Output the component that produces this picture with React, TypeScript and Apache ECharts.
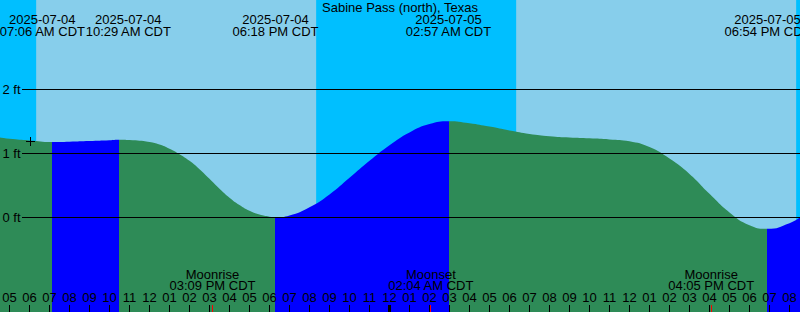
import React, { useEffect, useRef } from "react";
import * as echarts from "echarts";

const stationName = "Sabine Pass (north), Texas";

// Time: hours since 2025-07-04 00:00 CDT ; level: feet
const tideHours = [
  4.5, 5, 6, 7.1, 8, 9, 10, 10.4833, 11, 12, 12.5, 13, 13.5, 14, 14.5, 15, 15.5,
  16, 16.5, 17, 17.5, 18, 18.3, 19, 20, 21, 22, 23, 24, 25, 26, 26.95, 28, 29,
  30, 31, 32, 33, 34, 35, 36, 37, 38, 39, 40, 41, 42, 42.9, 44, 44.6,
];
const tideFeet = [
  1.25, 1.23, 1.205, 1.18, 1.185, 1.195, 1.207, 1.215, 1.21, 1.18, 1.14, 1.075,
  0.99, 0.885, 0.755, 0.605, 0.45, 0.31, 0.195, 0.105, 0.045, 0.012, 0.0, 0.03,
  0.16, 0.36, 0.62, 0.885, 1.13, 1.33, 1.46, 1.505, 1.473, 1.42, 1.36, 1.306,
  1.27, 1.25, 1.237, 1.22, 1.19, 1.1, 0.92, 0.68, 0.37, 0.08, -0.12, -0.177,
  -0.088, 0.016,
];

const extremeHours = [7.1, 10.4833, 18.3, 26.95, 42.9];
const extremeKinds = ["low", "high", "low", "high", "low"];
const extremeDates = ["2025-07-04", "2025-07-04", "2025-07-04", "2025-07-05", "2025-07-05"];
const extremeTimes = ["07:06 AM CDT", "10:29 AM CDT", "06:18 PM CDT", "02:57 AM CDT", "06:54 PM CDT"];

const sunriseHours = [6.333, 30.333];
const sunsetHours = [20.333, 44.333];

const moonHours = [15.15, 26.0667, 40.0833];
const moonEvents = ["Moonrise", "Moonset", "Moonrise"];
const moonTimes = ["03:09 PM CDT", "02:04 AM CDT", "04:05 PM CDT"];

const hourTicks = [
  5, 6, 7, 8, 9, 10, 11, 12, 13, 14, 15, 16, 17, 18, 19, 20, 21, 22, 23, 24, 25,
  26, 27, 28, 29, 30, 31, 32, 33, 34, 35, 36, 37, 38, 39, 40, 41, 42, 43, 44,
];

const levelTicks = [0, 1, 2];
const levelLabels = ["0 ft", "1 ft", "2 ft"];

const markerHour = 6.05;
const markerFeet = 1.1875;

// axis extents
const axisStartHour = 4.525;
const axisEndHour = 44.525;
const axisMinFeet = -1.4765625;
const axisMaxFeet = 3.3984375;

const DAY = "#87CEEB";
const NIGHT = "#00BFFF";
const FLOOD = "#0000FF";
const EBB = "#2E8B57";
const FONT = "'Liberation Sans', Arial, Helvetica, sans-serif";
const FS = 13;

function hourLabel(h: number): string {
  const hh = h % 12 === 0 ? 12 : h % 12;
  return (hh < 10 ? "0" : "") + hh;
}

function spread(xs: number[], w: number): number[] {
  const out = xs.slice();
  for (let it = 0; it < 6; it++) {
    for (let i = 0; i < out.length - 1; i++) {
      const gap = out[i + 1] - out[i];
      if (gap < w) {
        const d = (w - gap) / 2;
        out[i] -= d;
        out[i + 1] += d;
      }
    }
  }
  return out;
}

export default function App() {
  const ref = useRef<HTMLDivElement>(null);
  useEffect(() => {
    if (!ref.current) return;
    const chart = echarts.init(ref.current, undefined, { renderer: "svg" });

    const nights = [
      [axisStartHour - 1, sunriseHours[0]],
      [sunsetHours[0], sunriseHours[1]],
      [sunsetHours[1], axisEndHour + 1],
    ];

    const pieces: any[] = [];
    pieces.push({ lt: extremeHours[0], color: extremeKinds[0] === "low" ? EBB : FLOOD });
    for (let i = 0; i < extremeHours.length; i++) {
      const color = extremeKinds[i] === "low" ? FLOOD : EBB;
      if (i < extremeHours.length - 1) pieces.push({ gte: extremeHours[i], lt: extremeHours[i + 1], color });
      else pieces.push({ gte: extremeHours[i], color });
    }

    const textStyle = (text: string, x: number, y: number, align = "center") => ({
      type: "text",
      style: {
        text,
        x,
        y,
        fill: "#000",
        fontSize: FS,
        fontFamily: FONT,
        align,
        verticalAlign: "middle",
      },
    });

    const option: any = {
      animation: false,
      title: {
        text: stationName,
        left: "center",
        top: 1,
        padding: 0,
        textStyle: { fontSize: FS, fontWeight: "normal", color: "#000", fontFamily: FONT, lineHeight: 13 },
      },
      grid: {
        left: 0, right: 0, top: 0, bottom: 0,
        show: true, backgroundColor: DAY, borderWidth: 0,
      },
      xAxis: { type: "value", min: axisStartHour, max: axisEndHour, show: false },
      yAxis: { type: "value", min: axisMinFeet, max: axisMaxFeet, show: false },
      visualMap: { type: "piecewise", show: false, dimension: 0, seriesIndex: 1, pieces },
      series: [
        {
          type: "custom",
          z: 1,
          silent: true,
          data: nights,
          renderItem: (params: any, api: any) => {
            const s = api.coord([api.value(0), 0]);
            const e = api.coord([api.value(1), 0]);
            const cs = params.coordSys;
            return {
              type: "rect",
              shape: { x: s[0], y: cs.y, width: e[0] - s[0], height: cs.height },
              style: { fill: NIGHT },
            };
          },
        },
        {
          type: "line",
          z: 2,
          silent: true,
          smooth: 0.5,
          symbol: "none",
          data: tideHours.map((h, i) => [h, tideFeet[i]]),
          lineStyle: { width: 0, opacity: 0 },
          areaStyle: { opacity: 1, origin: "start" },
        },
        {
          type: "custom",
          z: 3,
          silent: true,
          data: levelTicks.map((v, i) => [axisStartHour, v, i]),
          renderItem: (params: any, api: any) => {
            const p = api.coord([api.value(0), api.value(1)]);
            const cs = params.coordSys;
            const idx = api.value(2);
            return {
              type: "group",
              children: [
                {
                  type: "line",
                  shape: { x1: p[0] + 22, y1: p[1], x2: cs.x + cs.width, y2: p[1] },
                  style: { stroke: "#000", lineWidth: 1 },
                },
                textStyle(levelLabels[idx], p[0] + 20.5, p[1], "right"),
              ],
            };
          },
        },
        {
          type: "custom",
          z: 4,
          silent: true,
          data: [[markerHour, markerFeet]],
          renderItem: (params: any, api: any) => {
            const p = api.coord([api.value(0), api.value(1)]);
            return {
              type: "group",
              children: [
                { type: "line", shape: { x1: p[0] - 4.5, y1: p[1], x2: p[0] + 4.5, y2: p[1] }, style: { stroke: "#000", lineWidth: 1 } },
                { type: "line", shape: { x1: p[0], y1: p[1] - 4.5, x2: p[0], y2: p[1] + 4.5 }, style: { stroke: "#000", lineWidth: 1 } },
              ],
            };
          },
        },
        {
          type: "custom",
          z: 5,
          silent: true,
          data: moonHours.map((h, i) => [h, 0, i]),
          renderItem: (params: any, api: any) => {
            const p = api.coord([api.value(0), 0]);
            const cs = params.coordSys;
            const bottom = cs.y + cs.height;
            const idx = api.value(2);
            return {
              type: "group",
              children: [
                textStyle(moonEvents[idx], p[0], bottom - 38),
                textStyle(moonTimes[idx], p[0], bottom - 26.5),
              ],
            };
          },
        },
        {
          type: "custom",
          z: 6,
          silent: true,
          data: hourTicks.map((h) => [h, 0]),
          renderItem: (params: any, api: any) => {
            const h = api.value(0);
            const p = api.coord([h, 0]);
            const cs = params.coordSys;
            const bottom = cs.y + cs.height;
            const midnight = h % 24 === 0;
            return {
              type: "group",
              children: [
                {
                  type: "line",
                  shape: { x1: p[0], y1: bottom - 7, x2: p[0], y2: bottom },
                  style: { stroke: "#000", lineWidth: midnight ? 3 : 1 },
                },
                textStyle(hourLabel(h), p[0], bottom - 14.5),
              ],
            };
          },
        },
        {
          type: "custom",
          z: 7,
          silent: true,
          data: moonHours.map((h) => [h, 0]),
          renderItem: (params: any, api: any) => {
            const p = api.coord([api.value(0), 0]);
            const cs = params.coordSys;
            const bottom = cs.y + cs.height;
            const x = Math.floor(p[0]) + 0.5;
            return {
              type: "line",
              shape: { x1: x, y1: bottom - 7, x2: x, y2: bottom },
              style: { stroke: "#FF0000", lineWidth: 1 },
            };
          },
        },
        {
          type: "custom",
          z: 7,
          silent: true,
          data: extremeHours.map((h, i) => [h, 0, i]),
          renderItem: (params: any, api: any) => {
            const cs = params.coordSys;
            const xs = spread(extremeHours.map((h) => api.coord([h, 0])[0]), 86);
            const idx = api.value(2);
            return {
              type: "group",
              children: [
                textStyle(extremeDates[idx], xs[idx], cs.y + 19.7),
                textStyle(extremeTimes[idx], xs[idx], cs.y + 31.7),
              ],
            };
          },
        },
      ],
    };
    chart.setOption(option);
    return () => chart.dispose();
  }, []);
  return (
    <div
      ref={ref}
      style={{ position: "absolute", left: 0, top: 0, width: 800, height: 312 }}
    />
  );
}
